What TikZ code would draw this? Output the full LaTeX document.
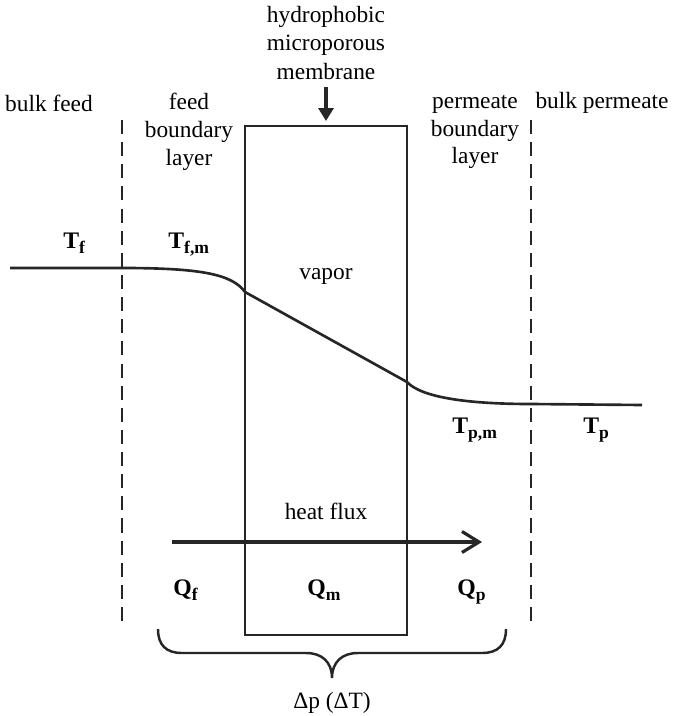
\documentclass[tikz,border=0pt]{standalone}
\usepackage{fontspec}
\setmainfont{Liberation Serif}
\usetikzlibrary{arrows.meta}
\tikzset{
  lbl/.style={align=center, font=\fontsize{13.3}{15.9}\selectfont, inner sep=0pt},
  qty/.style={font=\fontsize{13.5}{15}\selectfont\bfseries, inner sep=0pt, anchor=base west},
  wall/.style={line width=1.5pt, draw=black!85},
  bound/.style={line width=1.6pt, draw=black!85, dash pattern=on 8pt off 4.6pt},
  profile/.style={line width=1.5pt, draw=black!85},
  flux/.style={line width=1.8pt, draw=black!85, -{Straight Barb[length=3.4mm,width=4.2mm,line width=1.8pt]}},
  pointer/.style={line width=2.2pt, draw=black!85, -{Triangle[length=2.6mm,width=3mm]}},
  brace/.style={line width=1.4pt, draw=black!85}
}
\newcommand{\qsub}[2]{#1\raisebox{-0.5ex}{\fontsize{10}{10}\selectfont #2}}

\begin{document}
\begin{tikzpicture}[x=0.02cm, y=-0.02cm]
  \useasboundingbox (0,0) rectangle (674,716);
  % membrane and boundary layers
  \draw[wall] (245,126) rectangle (407,635);
  \draw[bound] (122,120) -- (122,623);
  \draw[bound] (531,120) -- (531,623);

  % temperature profile
  \coordinate (fin) at (10,268);
  \coordinate (fb) at (122,268);
  \coordinate (fm) at (245,292);
  \coordinate (pm) at (407,382);
  \coordinate (pb) at (531,404);
  \coordinate (pout) at (642,405);
  \draw[profile] (fin) -- (fb) .. controls (200,268) and (232,274) .. (fm)
    -- (pm) .. controls (422,398) and (470,404) .. (pb) -- (pout);

  % labels
  \node[lbl, font=\fontsize{13.3}{16.2}\selectfont] (mem) at (326,43) {hydrophobic\\microporous\\membrane};
  \coordinate (memtop) at (326,87);
  \coordinate (memtip) at (326,121);
  \draw[pointer] (memtop) -- (memtip);
  \node[lbl] (bfeed) at (49,103) {bulk feed};
  \node[lbl] (fbl) at (189,132) {feed\\boundary\\layer};
  \node[lbl] (pbl) at (475,132) {permeate\\boundary\\layer};
  \node[lbl] (bperm) at (602,103) {bulk permeate};
  \node[lbl] (vapor) at (326,276) {vapor};

  \node[qty] (tf) at (63,248) {\qsub{T}{f}};
  \node[qty] (tfm) at (168,248) {\qsub{T}{f,m}};
  \node[qty] (tpm) at (452,433) {\qsub{T}{p,m}};
  \node[qty] (tp) at (583,433) {\qsub{T}{p}};

  % heat flux
  \node[lbl] (hf) at (326,511) {heat flux};
  \coordinate (hfa) at (172,542);
  \coordinate (hfb) at (482,542);
  \draw[flux] (hfa) -- (hfb);

  \node[qty] (qf) at (173,595) {\qsub{Q}{f}};
  \node[qty] (qm) at (307,595) {\qsub{Q}{m}};
  \node[qty] (qp) at (457,595) {\qsub{Q}{p}};

  % brace
  \coordinate (bl) at (158,629);
  \coordinate (bt) at (332,678);
  \coordinate (br) at (506,629);
  \draw[brace] (bl) .. controls (158,645) and (166,653) .. (182,653) -- (306,653)
    .. controls (322,653) and (332,662) .. (bt)
    .. controls (332,662) and (342,653) .. (358,653) -- (482,653)
    .. controls (498,653) and (506,645) .. (br);
  \node[lbl] (dp) at (332,703) {Δp (ΔT)};
\end{tikzpicture}
\end{document}
